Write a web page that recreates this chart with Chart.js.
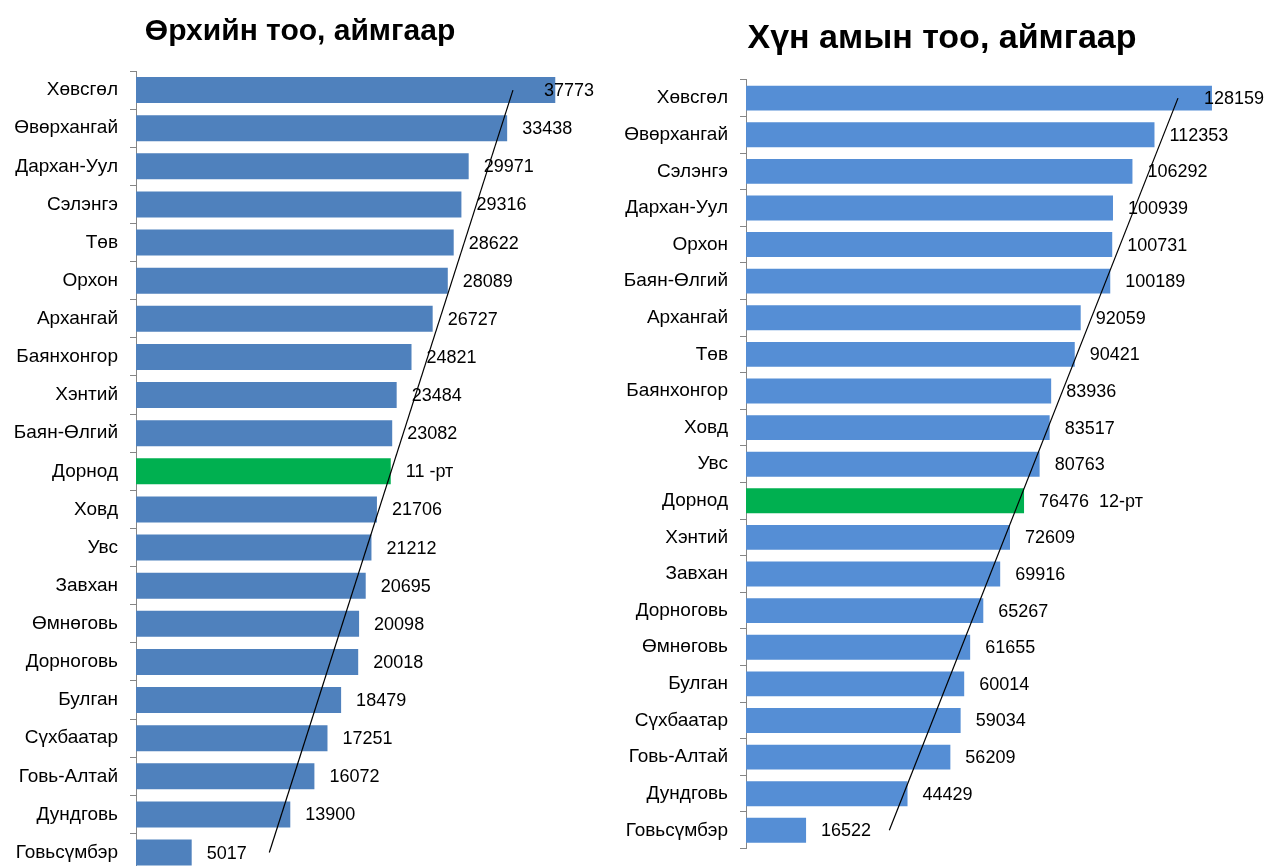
<!DOCTYPE html>
<html>
<head>
<meta charset="utf-8">
<script src="https://cdn.jsdelivr.net/npm/chart.js@4.4.1/dist/chart.umd.min.js"></script>
<style>
  html, body { margin: 0; padding: 0; background: #fff; overflow: hidden; }
  body { width: 1273px; height: 866px; position: relative; }
  canvas { position: absolute; top: 0; display: block; }
  #householdCanvas { left: 0; }
  #populationCanvas { left: 611px; }
</style>
</head>
<body>
<canvas id="householdCanvas" width="600" height="895"></canvas>
<canvas id="populationCanvas" width="662" height="872"></canvas>
<script>
const highlightProvince = 'Дорнод';

const householdProvinces = ['Хөвсгөл', 'Өвөрхангай', 'Дархан-Уул', 'Сэлэнгэ', 'Төв', 'Орхон', 'Архангай',
  'Баянхонгор', 'Хэнтий', 'Баян-Өлгий', 'Дорнод', 'Ховд', 'Увс', 'Завхан', 'Өмнөговь', 'Дорноговь',
  'Булган', 'Сүхбаатар', 'Говь-Алтай', 'Дундговь', 'Говьсүмбэр'];
const householdCounts = [37773, 33438, 29971, 29316, 28622, 28089, 26727, 24821, 23484, 23082, 22950,
  21706, 21212, 20695, 20098, 20018, 18479, 17251, 16072, 13900, 5017];
const householdTrend = [33960, 12010];
const householdRank = '11 -рт';

const populationProvinces = ['Хөвсгөл', 'Өвөрхангай', 'Сэлэнгэ', 'Дархан-Уул', 'Орхон', 'Баян-Өлгий',
  'Архангай', 'Төв', 'Баянхонгор', 'Ховд', 'Увс', 'Дорнод', 'Хэнтий', 'Завхан', 'Дорноговь', 'Өмнөговь',
  'Булган', 'Сүхбаатар', 'Говь-Алтай', 'Дундговь', 'Говьсүмбэр'];
const populationCounts = [128159, 112353, 106292, 100939, 100731, 100189, 92059, 90421, 83936, 83517,
  80763, 76476, 72609, 69916, 65267, 61655, 60014, 59034, 56209, 44429, 16522];
const populationTrend = [118820, 39420];
const populationRank = '12-рт';

const fontFamily = '"Liberation Sans", Arial, sans-serif';
const labelFont = '18px ' + fontFamily;

// value labels next to each bar, pushed back inside when they would leave the chart
const barValueLabels = {
  id: 'barValueLabels',
  afterLayout(chart, args, opts) {
    // nudge the title so it sits centred like the original slide
    if (chart.titleBlock && opts.titleShift) {
      chart.titleBlock.left += opts.titleShift;
      chart.titleBlock.right += opts.titleShift;
    }
  },
  afterDatasetsDraw(chart, args, opts) {
    const ctx = chart.ctx;
    const meta = chart.getDatasetMeta(0);
    ctx.save();
    ctx.font = labelFont;
    ctx.fillStyle = '#000';
    ctx.textBaseline = 'middle';
    meta.data.forEach((bar, i) => {
      const text = opts.texts[i];
      const w = ctx.measureText(text).width;
      const x = Math.min(bar.x + opts.offset, opts.maxRight - w);
      ctx.fillText(text, x, bar.y + 1);
    });
    ctx.restore();
  }
};

const makeChart = (canvasId, cfg) => {
  const barColors = cfg.provinces.map(p => p === highlightProvince ? '#00B050' : cfg.color);
  new Chart(document.getElementById(canvasId), {
    type: 'bar',
    data: {
      labels: cfg.provinces,
      datasets: [
        {
          type: 'bar',
          data: cfg.counts,
          backgroundColor: barColors,
          categoryPercentage: 1,
          barPercentage: 0.68,
          order: 1
        },
        {
          type: 'line',
          data: [
            { x: cfg.trend[0], y: cfg.provinces[0] },
            { x: cfg.trend[1], y: cfg.provinces[cfg.provinces.length - 1] }
          ],
          borderColor: '#000',
          borderWidth: 1.2,
          pointRadius: 0,
          fill: false,
          order: 0
        }
      ]
    },
    options: {
      indexAxis: 'y',
      responsive: false,
      animation: false,
      layout: { padding: cfg.padding },
      plugins: {
        legend: { display: false },
        tooltip: { enabled: false },
        title: {
          display: true,
          text: cfg.title,
          color: '#000',
          font: { family: fontFamily, size: cfg.titleSize, weight: 'bold' },
          padding: cfg.titlePadding
        },
        barValueLabels: { texts: cfg.texts, offset: 15, maxRight: cfg.labelMaxRight, titleShift: cfg.titleShift }
      },
      scales: {
        x: { display: false, min: 0, max: cfg.max },
        y: {
          type: 'category',
          offset: true,
          afterFit: (scale) => { scale.width = cfg.axisWidth; },
          ticks: {
            color: '#000',
            padding: 12,
            font: { family: fontFamily, size: 19 }
          },
          grid: {
            offset: true,
            drawOnChartArea: false,
            tickLength: 6,
            color: '#868686'
          },
          border: { display: true, color: '#868686', width: 1 }
        }
      }
    },
    plugins: [barValueLabels]
  });
};

makeChart('householdCanvas', {
  title: 'Өрхийн тоо, аймгаар',
  titleSize: 30,
  titlePadding: { top: 14, bottom: 21 },
  titleShift: 10,
  provinces: householdProvinces,
  counts: householdCounts,
  trend: householdTrend,
  texts: householdCounts.map((v, i) => householdProvinces[i] === highlightProvince ? householdRank : String(v)),
  color: '#4F81BD',
  max: 40000,
  axisWidth: 136,
  padding: { top: 0, right: 20, bottom: 8, left: 0 },
  labelMaxRight: 594
});

makeChart('populationCanvas', {
  title: 'Хүн амын тоо, аймгаар',
  titleSize: 34,
  titlePadding: { top: 18, bottom: 21 },
  titleShift: 9,
  provinces: populationProvinces,
  counts: populationCounts,
  trend: populationTrend,
  texts: populationCounts.map((v, i) => populationProvinces[i] === highlightProvince ? v + '  ' + populationRank : String(v)),
  color: '#558ED5',
  max: 140000,
  axisWidth: 135,
  padding: { top: 0, right: 18, bottom: 17, left: 0 },
  labelMaxRight: 653
});
</script>
</body>
</html>
